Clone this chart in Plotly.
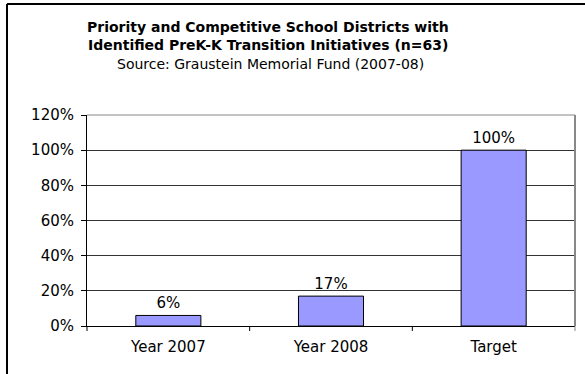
import plotly.graph_objects as go

categories = ["Year 2007", "Year 2008", "Target"]
values = [0.06, 0.17, 1.00]
labels = ["6%", "17%", "100%"]
tick_vals = [0, 0.2, 0.4, 0.6, 0.8, 1.0, 1.2]
tick_text = ["0%", "20%", "40%", "60%", "80%", "100%", "120%"]
title_lines = ["Priority and Competitive School Districts with",
               "Identified PreK-K Transition Initiatives (n=63)"]
subtitle = "Source: Graustein Memorial Fund (2007-08)"

L, R, T, B = 87, 10, 115, 48
W, H = 585, 374
pw = W - L - R
ph = H - T - B

def px_x(x):
    return (x - L) / pw

def px_y(y):
    return (H - B - y) / ph

FAM = "DejaVu Sans, Liberation Sans, Arial"
font = dict(family=FAM, size=15, color="black")

fig = go.Figure()
fig.add_trace(go.Bar(
    x=categories, y=values, text=labels, textposition="outside",
    textfont=font,
    marker=dict(color="#9999FF", line=dict(color="black", width=1)),
    width=0.4, cliponaxis=False,
))

fig.update_layout(
    width=W, height=H,
    margin=dict(l=L, r=R, t=T, b=B),
    paper_bgcolor="white", plot_bgcolor="white",
    showlegend=False, font=font, hovermode=False,
    xaxis=dict(showgrid=False, showline=True, linecolor="black", linewidth=1,
               ticks="outside", ticklen=0, tickfont=font, ticklabelstandoff=7),
    yaxis=dict(range=[0, 1.2], tickvals=tick_vals, ticktext=tick_text,
               showgrid=True, gridcolor="#333333", gridwidth=1,
               showline=True, linecolor="black", linewidth=1,
               ticks="outside", ticklen=5, tickcolor="black", tickfont=font,
               ticklabelstandoff=4, zeroline=False),
)

# category separator ticks on x axis
for i in range(4):
    fig.add_shape(type="line", xref="paper", yref="paper",
                  x0=i / 3, x1=i / 3, y0=0, y1=-5 / ph,
                  line=dict(color="black" if i < 3 else "#888888", width=1))
# plot area top and right border (gray)
fig.add_shape(type="line", xref="paper", yref="paper", x0=0, x1=1, y0=1, y1=1,
              line=dict(color="#888888", width=1))
fig.add_shape(type="line", xref="paper", yref="paper", x0=1, x1=1, y0=0, y1=1,
              line=dict(color="#888888", width=2))
# outer chart frame (left and top)
fig.add_shape(type="line", xref="paper", yref="paper",
              x0=px_x(7), x1=px_x(7), y0=px_y(4), y1=px_y(380),
              line=dict(color="black", width=2))
fig.add_shape(type="line", xref="paper", yref="paper",
              x0=px_x(7), x1=px_x(590), y0=px_y(4), y1=px_y(4),
              line=dict(color="black", width=2))

for text, yc in zip(title_lines, [27, 45]):
    fig.add_annotation(xref="paper", yref="paper", x=px_x(268), y=px_y(yc),
                       xanchor="center", yanchor="middle",
                       text="<b>" + text + "</b>", showarrow=False,
                       font=dict(family=FAM, size=14, color="black"))
fig.add_annotation(xref="paper", yref="paper", x=px_x(270), y=px_y(64),
                   xanchor="center", yanchor="middle",
                   text=subtitle, showarrow=False,
                   font=dict(family=FAM, size=14, color="black"))

fig.write_html("out.html", config={"displayModeBar": False})
